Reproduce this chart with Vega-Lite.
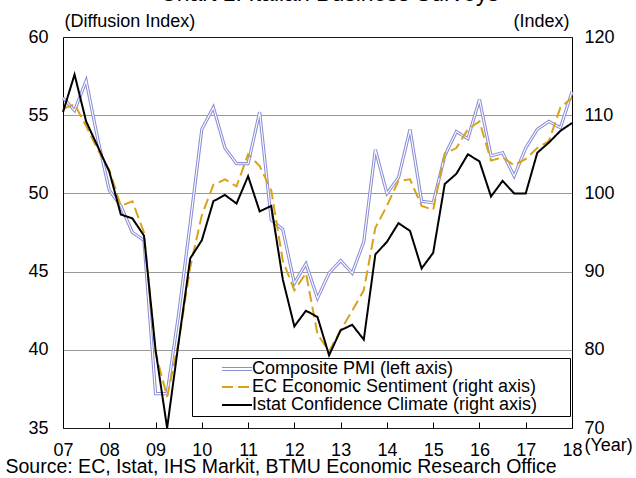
{
  "$schema": "https://vega.github.io/schema/vega-lite/v6.json",
  "width": 509,
  "height": 391,
  "autosize": "none",
  "padding": {"left": 63, "top": 37, "right": 64, "bottom": 50},
  "background": "white",
  "config": {
    "font": "Liberation Sans",
    "view": {"stroke": "black", "strokeWidth": 1},
    "axis": {"labelFont": "Liberation Sans", "labelFontSize": 18, "labelColor": "black", "titleFont": "Liberation Sans", "titleFontSize": 18, "titleFontWeight": "normal", "titleColor": "black", "domain": false},
    "legend": {"orient": "none", "legendX": 129, "legendY": 321, "direction": "vertical", "fillColor": "white", "strokeColor": "black", "padding": 2, "labelFontSize": 18, "labelFont": "Liberation Sans", "labelColor": "black", "labelLimit": 1000, "symbolSize": 144, "symbolStrokeWidth": 2, "symbolOffset": 34, "labelOffset": 6, "rowPadding": -1.5, "titleOrient": "right", "titleColor": "white", "titleFontSize": 4, "titlePadding": 29}
  },
  "title": {"text": "Chart 1: Italian Business Surveys", "fontSize": 23, "fontWeight": "normal", "color": "black", "anchor": "middle", "frame": "group", "baseline": "alphabetic", "offset": 0, "dx": 12, "dy": 11.5},
  "data": {"values": [
    {"t": 2007, "pmi": 56.1, "ec": 110.8, "ist": 110.4},
    {"t": 2007.25, "pmi": 55.3, "ec": 111.4, "ist": 115.2},
    {"t": 2007.5, "pmi": 57.2, "ec": 108.6, "ist": 109.2},
    {"t": 2007.75, "pmi": 53.5, "ec": 105.6, "ist": 106.0},
    {"t": 2008, "pmi": 50.2, "ec": 103.0, "ist": 102.8},
    {"t": 2008.25, "pmi": 49.2, "ec": 98.4, "ist": 97.3},
    {"t": 2008.5, "pmi": 47.5, "ec": 99.0, "ist": 96.8},
    {"t": 2008.75, "pmi": 47.0, "ec": 95.0, "ist": 94.6},
    {"t": 2009, "pmi": 37.2, "ec": 79.6, "ist": 80.0},
    {"t": 2009.25, "pmi": 37.2, "ec": 74.0, "ist": 70.0},
    {"t": 2009.5, "pmi": 42.3, "ec": 81.0, "ist": 81.0},
    {"t": 2009.75, "pmi": 48.1, "ec": 90.6, "ist": 91.7},
    {"t": 2010, "pmi": 54.1, "ec": 97.2, "ist": 94.0},
    {"t": 2010.25, "pmi": 55.5, "ec": 101.1, "ist": 99.0},
    {"t": 2010.5, "pmi": 52.9, "ec": 101.8, "ist": 99.8},
    {"t": 2010.75, "pmi": 51.9, "ec": 100.9, "ist": 98.7},
    {"t": 2011, "pmi": 51.9, "ec": 105.0, "ist": 102.2},
    {"t": 2011.25, "pmi": 55.2, "ec": 103.5, "ist": 97.7},
    {"t": 2011.5, "pmi": 48.3, "ec": 100.4, "ist": 98.4},
    {"t": 2011.75, "pmi": 47.7, "ec": 91.4, "ist": 89.0},
    {"t": 2012, "pmi": 44.25, "ec": 87.6, "ist": 83.0},
    {"t": 2012.25, "pmi": 45.5, "ec": 89.8, "ist": 85.0},
    {"t": 2012.5, "pmi": 43.3, "ec": 82.0, "ist": 84.2},
    {"t": 2012.75, "pmi": 44.9, "ec": 79.8, "ist": 79.3},
    {"t": 2013, "pmi": 45.7, "ec": 82.5, "ist": 82.5},
    {"t": 2013.25, "pmi": 44.9, "ec": 85.0, "ist": 83.2},
    {"t": 2013.5, "pmi": 46.9, "ec": 87.6, "ist": 81.3},
    {"t": 2013.75, "pmi": 52.8, "ec": 95.6, "ist": 92.2},
    {"t": 2014, "pmi": 50.0, "ec": 98.4, "ist": 93.8},
    {"t": 2014.25, "pmi": 51.0, "ec": 101.6, "ist": 96.2},
    {"t": 2014.5, "pmi": 54.1, "ec": 101.8, "ist": 95.2},
    {"t": 2014.75, "pmi": 49.5, "ec": 98.4, "ist": 90.4},
    {"t": 2015, "pmi": 49.4, "ec": 97.9, "ist": 92.4},
    {"t": 2015.25, "pmi": 52.4, "ec": 105.1, "ist": 101.2},
    {"t": 2015.5, "pmi": 53.95, "ec": 105.8, "ist": 102.5},
    {"t": 2015.75, "pmi": 53.5, "ec": 108.2, "ist": 105.0},
    {"t": 2016, "pmi": 56.0, "ec": 109.2, "ist": 104.1},
    {"t": 2016.25, "pmi": 52.4, "ec": 104.2, "ist": 99.6},
    {"t": 2016.5, "pmi": 52.6, "ec": 104.6, "ist": 101.6},
    {"t": 2016.75, "pmi": 51.1, "ec": 103.6, "ist": 100.0},
    {"t": 2017, "pmi": 52.9, "ec": 104.4, "ist": 100.0},
    {"t": 2017.25, "pmi": 54.1, "ec": 105.8, "ist": 105.2},
    {"t": 2017.5, "pmi": 54.6, "ec": 106.7, "ist": 106.5},
    {"t": 2017.75, "pmi": 54.2, "ec": 111.0, "ist": 108.0},
    {"t": 2018, "pmi": 56.5, "ec": 112.2, "ist": 109.0}
  ]},
  "resolve": {"scale": {"y": "independent"}, "axis": {"x": "independent", "y": "independent"}},
  "layer": [
    {
      "transform": [{"fold": ["pmi"], "as": ["series", "value"]}],
      "encoding": {
        "x": {"field": "t", "type": "quantitative", "scale": {"domain": [2007, 2018], "nice": false, "zero": false},
          "axis": {"values": [2007, 2008, 2009, 2010, 2011, 2012, 2013, 2014, 2015, 2016, 2017, 2018], "labelExpr": "substring(toString(datum.value), 2)", "ticks": true, "tickSize": -6, "tickColor": "black", "grid": false, "labelPadding": 19, "labelFlush": false, "labelOverlap": false, "title": "(Year)", "titleX": 521, "titleY": 8, "titleAlign": "left", "titleBaseline": "top"}},
        "y": {"field": "value", "type": "quantitative", "scale": {"domain": [35, 60], "nice": false, "zero": false},
          "axis": {"values": [35, 40, 45, 50, 55, 60], "ticks": false, "grid": true, "gridDash": [1, 1], "gridColor": "#333333", "labelPadding": 15, "labelFlush": false, "title": "(Diffusion Index)", "titleAngle": 0, "titleX": 1, "titleY": -11, "titleAlign": "left", "titleBaseline": "alphabetic"}}
      },
      "layer": [
        {"mark": {"type": "line", "strokeWidth": 3.2},
          "encoding": {
            "color": {"field": "series", "type": "nominal", "scale": {"domain": ["pmi", "ec", "ist"], "range": ["#8a8ed6", "#d9a21b", "#000000"]},
              "legend": {"title": ".", "labelExpr": "datum.value == 'pmi' ? 'Composite PMI (left axis)' : datum.value == 'ec' ? 'EC Economic Sentiment (right axis)' : 'Istat Confidence Climate (right axis)'",
                "encode": {"symbols": {"update": {"shape": {"signal": "datum.value == 'pmi' ? 'M-2.5,-0.25H2.5M-2.5,0.25H2.5' : 'M-2.5,0H2.5'"}, "strokeWidth": {"signal": "datum.value == 'pmi' ? 1 : 2"}}}}}},
            "strokeDash": {"field": "series", "type": "nominal", "scale": {"domain": ["pmi", "ec", "ist"], "range": [[1, 0], [11, 5], [1, 0]]},
              "legend": {"title": ".", "labelExpr": "datum.value == 'pmi' ? 'Composite PMI (left axis)' : datum.value == 'ec' ? 'EC Economic Sentiment (right axis)' : 'Istat Confidence Climate (right axis)'",
                "encode": {"symbols": {"update": {"shape": {"signal": "datum.value == 'pmi' ? 'M-2.5,-0.25H2.5M-2.5,0.25H2.5' : 'M-2.5,0H2.5'"}, "strokeWidth": {"signal": "datum.value == 'pmi' ? 1 : 2"}}}}}}
          }},
        {"mark": {"type": "line", "strokeWidth": 1.1, "color": "white"}}
      ]
    },
    {
      "transform": [{"fold": ["ec", "ist"], "as": ["series", "value"]}],
      "mark": {"type": "line", "strokeWidth": 2},
      "encoding": {
        "x": {"field": "t", "type": "quantitative",
          "axis": {"orient": "bottom", "labels": false, "ticks": false, "domain": false, "grid": false, "title": "Source: EC, Istat, IHS Markit, BTMU Economic Research Office", "titleX": -58, "titleY": 44, "titleAlign": "left", "titleBaseline": "alphabetic", "titleFontSize": 19.5}},
        "y": {"field": "value", "type": "quantitative", "scale": {"domain": [70, 120], "nice": false, "zero": false},
          "axis": {"orient": "right", "values": [70, 80, 90, 100, 110, 120], "ticks": false, "grid": false, "labelPadding": 12, "labelFlush": false, "title": "(Index)", "titleAngle": 0, "titleX": -3, "titleY": -11, "titleAlign": "right", "titleBaseline": "alphabetic"}},
        "color": {"field": "series", "type": "nominal", "scale": {"domain": ["pmi", "ec", "ist"], "range": ["#8a8ed6", "#d9a21b", "#000000"]}},
        "strokeDash": {"field": "series", "type": "nominal", "scale": {"domain": ["pmi", "ec", "ist"], "range": [[1, 0], [11, 5], [1, 0]]}}
      }
    }
  ]
}
